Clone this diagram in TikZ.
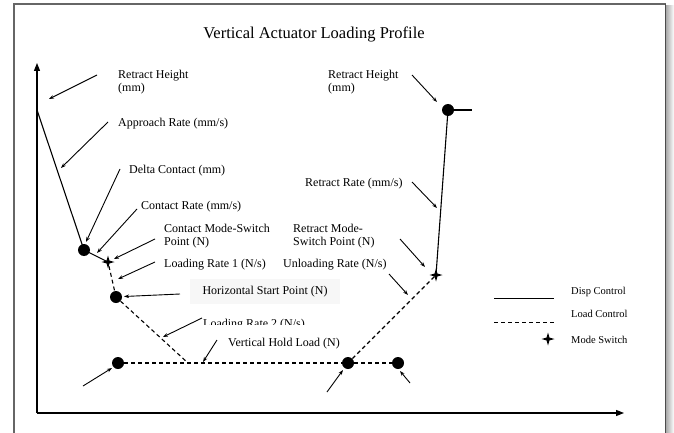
\documentclass[tikz,border=0pt]{standalone}
\usepackage{fontspec}
\setmainfont{Liberation Serif}
\usetikzlibrary{arrows.meta,shapes.geometric}
\begin{document}
\begin{tikzpicture}[x=1pt,y=-1pt,
  lbl/.style={anchor=base west,inner sep=0pt,font=\fontsize{12}{13}\selectfont,align=left},
  leg/.style={anchor=base west,inner sep=0pt,font=\fontsize{10.5}{12}\selectfont},
  dot/.style={circle,fill=black,inner sep=0pt,minimum size=12pt},
  mstar/.style={star,star points=4,star point ratio=3.2,fill=black,inner sep=0pt,minimum size=13pt},
  prof/.style={line width=1.1pt},
  profd/.style={line width=1.1pt,dash pattern=on 4pt off 3pt},
  ann/.style={line width=0.9pt,-{Stealth[length=5pt,width=3.6pt]}},
  axis/.style={line width=1.1pt,-{Triangle[length=8pt,width=6pt]}}]
\useasboundingbox (0,0) rectangle (674,433);
% frame
\shade[left color=gray!75,right color=white] (665,6) rectangle (674,433);
\draw[gray!80!black,line width=1.6pt] (14,433) -- (14,4) -- (666,4);
\draw[gray!60!black,line width=0.8pt] (665.5,4) -- (665.5,433);
% title
\node[anchor=base,inner sep=0pt,font=\fontsize{16.5}{18}\selectfont] (title) at (314,39) {Vertical Actuator Loading Profile};
% axes
\coordinate (o) at (37,413);
\coordinate (ytop) at (37,63);
\coordinate (xend) at (624,413);
\draw[axis] (o) -- (ytop);
\draw[axis] (o) -- (xend);
% profile points
\coordinate (p0) at (37,110);
\node[dot] (d1) at (84,250) {};
\node[mstar] (s1) at (108,262) {};
\node[dot] (d2) at (116,297) {};
\coordinate (c1) at (188,363);
\node[dot] (d3) at (118,363) {};
\node[dot] (d4) at (348,363) {};
\node[dot] (d5) at (398,363) {};
\node[mstar] (s2) at (436,275) {};
\node[dot] (d6) at (448,110) {};
\coordinate (p1) at (472,110);
% profile lines
\draw[prof] (p0) -- (d1.center);
\draw[prof] (d1.center) -- (s1.center);
\draw[profd] (s1) -- (d2);
\draw[profd] (d2) -- (c1);
\draw[profd] (d3) -- (d4) -- (d5);
\draw[profd] (d4) -- (s2);
\draw[prof] (s2.center) -- (d6.center);
\draw[prof] (d6.center) -- (p1);
% labels (multi-line nodes: base = last line)
\node[lbl] (t1) at (118,92) {Retract Height\\(mm)};
\node[lbl] (t2) at (118,126) {Approach Rate (mm/s)};
\node[lbl] (t3) at (129,173) {Delta Contact (mm)};
\node[lbl] (t4) at (141,209) {Contact Rate (mm/s)};
\node[lbl] (t5) at (164,245) {Contact Mode-Switch\\Point (N)};
\node[lbl] (t6) at (164,267) {Loading Rate 1 (N/s)};
\node[fill=gray!6,minimum width=150pt,minimum height=25pt,inner sep=0pt,font=\fontsize{12}{13}\selectfont] (t7) at (265,291.5) {Horizontal Start Point (N)};
\begin{scope}
\clip (195,305) rectangle (330,324.5);
\node[lbl] (t8) at (203,327.5) {Loading Rate 2 (N/s)};
\end{scope}
\node[lbl] (t9) at (228,346.5) {Vertical Hold Load (N)};
\node[lbl] (t10) at (328,92) {Retract Height\\(mm)};
\node[lbl] (t11) at (305,186) {Retract Rate (mm/s)};
\node[lbl] (t12) at (293,245) {Retract Mode-\\Switch Point (N)};
\node[lbl] (t13) at (283,267) {Unloading Rate (N/s)};
% annotation arrows
\coordinate (a1s) at (97,75);   \coordinate (a1e) at (49,99);
\coordinate (a2s) at (108,122); \coordinate (a2e) at (61,168);
\coordinate (a3s) at (120,169); \coordinate (a3e) at (86,242);
\coordinate (a4s) at (137,209); \coordinate (a4e) at (97,253);
\coordinate (a5s) at (155,239); \coordinate (a5e) at (114,259);
\coordinate (a6s) at (155,262); \coordinate (a6e) at (118,279);
\coordinate (a7s) at (180,294); \coordinate (a7e) at (124,296.5);
\coordinate (a8s) at (202,318); \coordinate (a8e) at (163,337);
\coordinate (a9s) at (217,340); \coordinate (a9e) at (203,362);
\coordinate (a10s) at (83,386); \coordinate (a10e) at (112,368);
\coordinate (a11s) at (327,392); \coordinate (a11e) at (343,370);
\coordinate (a12s) at (410,383); \coordinate (a12e) at (400,371);
\coordinate (a13s) at (389,274); \coordinate (a13e) at (408,295);
\coordinate (a14s) at (400,239); \coordinate (a14e) at (425,267);
\coordinate (a15s) at (412,182); \coordinate (a15e) at (437,208);
\coordinate (a16s) at (412,75); \coordinate (a16e) at (437,102);
\foreach \i in {1,...,16} {\draw[ann] (a\i s) -- (a\i e);}
% legend
\coordinate (l1a) at (494,298); \coordinate (l1b) at (554,298);
\coordinate (l2a) at (494,322); \coordinate (l2b) at (554,322);
\draw[line width=1pt] (l1a) -- (l1b);
\draw[line width=1pt,dash pattern=on 4pt off 3pt] (l2a) -- (l2b);
\node[mstar] (ls) at (548,339) {};
\node[leg] (lt1) at (571,294) {Disp Control};
\node[leg] (lt2) at (571,317) {Load Control};
\node[leg] (lt3) at (571,343) {Mode Switch};
\end{tikzpicture}
\end{document}
